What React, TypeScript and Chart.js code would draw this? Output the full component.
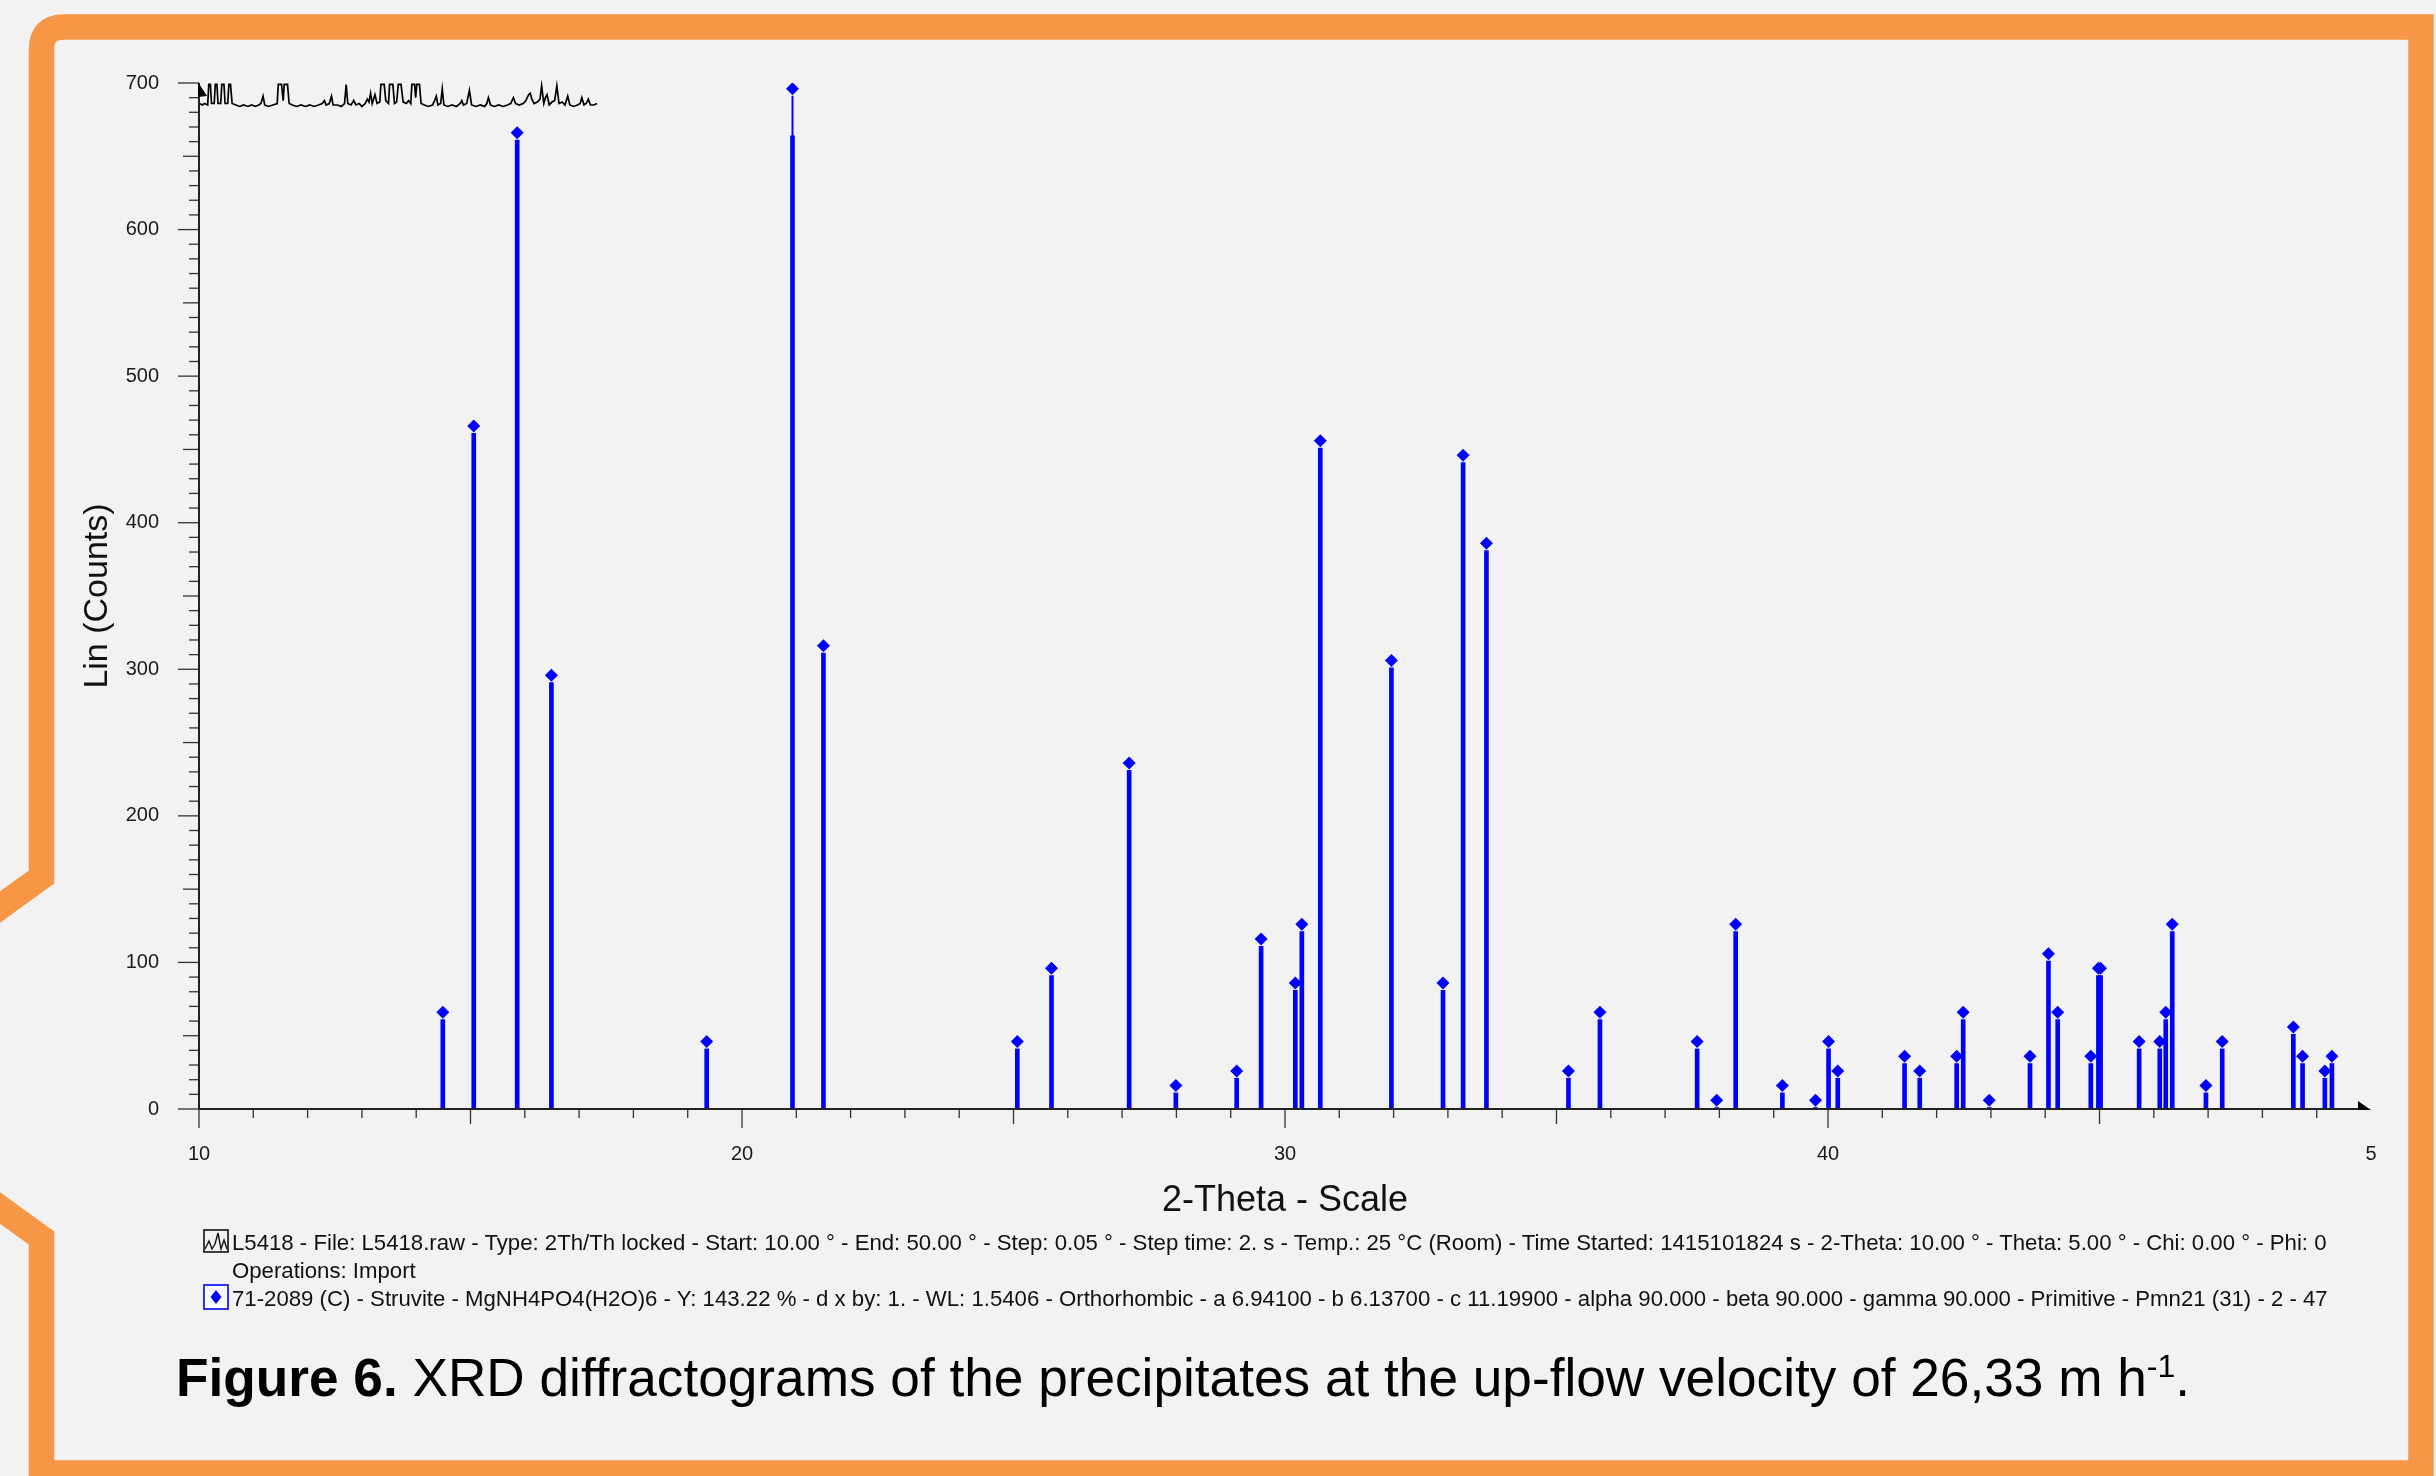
import React, { useEffect, useRef } from "react";
import { Chart, registerables } from "chart.js";

Chart.register(...registerables);

// ---------------- data ----------------
// Struvite reference pattern (71-2089): 2-theta positions and intensities (Lin counts)
const peakAngles = [
  14.49, 15.06, 15.86, 16.49, 19.35, 20.93, 21.5, 25.07, 25.7, 27.13,
  27.99, 29.11, 29.56, 30.19, 30.31, 30.65, 31.96, 32.91, 33.28, 33.71,
  35.22, 35.8, 37.59, 37.95, 38.3, 39.16, 39.77, 40.01, 40.18, 41.41,
  41.69, 42.37, 42.49, 42.97, 43.72, 44.06, 44.23, 44.84, 44.98, 45.02,
  45.73, 46.11, 46.22, 46.34, 46.96, 47.26, 48.57, 48.74, 49.15, 49.28,
];
const peakCounts = [
  66, 466, 666, 296, 46, 696, 316, 46, 96, 236,
  16, 26, 116, 86, 126, 456, 306, 86, 446, 386,
  26, 66, 46, 6, 126, 16, 6, 46, 26, 36,
  26, 36, 66, 6, 36, 106, 66, 36, 96, 96,
  46, 46, 66, 126, 16, 46, 56, 36, 26, 36,
];

// Measured scan L5418 as drawn (compressed trace at the top of the plot)
const traceAngles = [
  10.01, 10.06, 10.1, 10.16, 10.18, 10.21, 10.23, 10.28, 10.3, 10.33, 10.35, 10.4, 10.42, 10.46, 10.48,
  10.53, 10.55, 10.58, 10.61, 10.68, 10.75, 10.82, 10.9, 10.97, 11.04, 11.1, 11.14, 11.18, 11.21, 11.28,
  11.36, 11.44, 11.46, 11.52, 11.55, 11.57, 11.63, 11.66, 11.72, 11.8, 11.88, 11.96, 12.04, 12.12, 12.2,
  12.27, 12.31, 12.34, 12.4, 12.44, 12.47, 12.55, 12.62, 12.68, 12.71, 12.74, 12.8, 12.85, 12.89, 12.95,
  13.0, 13.06, 13.1, 13.13, 13.16, 13.19, 13.24, 13.28, 13.33, 13.35, 13.41, 13.44, 13.49, 13.51, 13.57,
  13.6, 13.64, 13.67, 13.72, 13.76, 13.82, 13.86, 13.9, 13.92, 13.97, 13.99, 14.01, 14.06, 14.09, 14.15,
  14.22, 14.3, 14.34, 14.37, 14.4, 14.45, 14.48, 14.51, 14.58, 14.66, 14.74, 14.81, 14.84, 14.87, 14.93,
  14.98, 15.02, 15.1, 15.18, 15.26, 15.3, 15.33, 15.37, 15.44, 15.52, 15.6, 15.68, 15.74, 15.79, 15.83,
  15.9, 15.97, 16.02, 16.07, 16.1, 16.13, 16.17, 16.23, 16.28, 16.31, 16.35, 16.38, 16.41, 16.45, 16.5,
  16.55, 16.59, 16.63, 16.69, 16.74, 16.79, 16.83, 16.9, 16.97, 17.02, 17.05, 17.09, 17.13, 17.17, 17.21,
  17.27, 17.33,
];
const traceCounts = [
  686, 685, 686, 685, 699, 699, 686, 686, 699, 699, 686, 686, 699, 699, 686,
  686, 699, 699, 686, 685, 684, 685, 684, 685, 684, 685, 686, 691, 685, 684,
  685, 686, 699, 699, 688, 699, 699, 686, 685, 684, 685, 684, 685, 684, 685,
  686, 688, 685, 686, 691, 685, 685, 684, 686, 699, 686, 685, 688, 685, 686,
  684, 686, 689, 687, 693, 686, 692, 686, 687, 699, 699, 688, 686, 699, 699,
  686, 687, 699, 699, 687, 686, 688, 686, 699, 699, 690, 699, 699, 686, 685,
  684, 685, 688, 691, 685, 686, 696, 685, 684, 685, 684, 686, 688, 685, 686,
  695, 685, 684, 685, 684, 686, 690, 685, 684, 685, 684, 685, 686, 690, 686,
  685, 686, 688, 692, 693, 689, 686, 687, 689, 698, 686, 690, 692, 685, 687,
  688, 698, 686, 687, 685, 691, 685, 684, 685, 686, 690, 685, 686, 689, 685,
  685, 686,
];

const xTickValues = [10, 20, 30, 40, 50];
const xTickLabels = ["10", "20", "30", "40", "5"];
const yTickLabels = ["0", "100", "200", "300", "400", "500", "600", "700"];

const X_MIN = 10;
const X_MAX = 50;
const Y_MIN = 0;
const Y_MAX = 700;

const legendLine1 =
  "L5418 - File: L5418.raw - Type: 2Th/Th locked - Start: 10.00 ° - End: 50.00 ° - Step: 0.05 ° - Step time: 2. s - Temp.: 25 °C (Room) - Time Started: 1415101824 s - 2-Theta: 10.00 ° - Theta: 5.00 ° - Chi: 0.00 ° - Phi: 0";
const legendLine2 = "Operations: Import";
const legendLine3 =
  "71-2089 (C) - Struvite - MgNH4PO4(H2O)6 - Y: 143.22 % - d x by: 1. - WL: 1.5406 - Orthorhombic - a 6.94100 - b 6.13700 - c 11.19900 - alpha 90.000 - beta 90.000 - gamma 90.000 - Primitive - Pmn21 (31) - 2 - 47";

// ---------------- layout / style ----------------
const W = 2436;
const H = 1476;
const PLOT = { left: 199, right: 2371, top: 83, bottom: 1109 };
const FONT = '"Liberation Sans", Arial, Helvetica, sans-serif';
const BLUE = "#0000ff";
const ORANGE = "#F79646";
const STICK_GAP = 5; // stick stops just below its diamond
const STICK_CLIP = 664; // above this the stick is drawn thin

const axesPlugin = {
  id: "xrdAxes",
  afterDraw(chart: any) {
    const { ctx } = chart;
    const xs = chart.scales.x;
    const ys = chart.scales.y;
    const x0 = xs.getPixelForValue(X_MIN);
    const xEnd = xs.getPixelForValue(X_MAX);
    const y0 = ys.getPixelForValue(Y_MIN);
    const yTop = ys.getPixelForValue(Y_MAX);
    ctx.save();
    ctx.strokeStyle = "#333";
    ctx.lineWidth = 1.3;
    for (let v = Y_MIN; v <= Y_MAX; v += 10) {
      const p = ys.getPixelForValue(v);
      const len = v % 100 === 0 ? 21 : v % 50 === 0 ? 16 : 10;
      ctx.beginPath();
      ctx.moveTo(x0 - len, p);
      ctx.lineTo(x0, p);
      ctx.stroke();
    }
    for (let v = X_MIN; v < X_MAX; v += 1) {
      const p = xs.getPixelForValue(v);
      const len = v % 10 === 0 ? 19 : v % 5 === 0 ? 15 : 9;
      ctx.beginPath();
      ctx.moveTo(p, y0);
      ctx.lineTo(p, y0 + len);
      ctx.stroke();
    }
    ctx.strokeStyle = "#222";
    ctx.lineWidth = 2;
    ctx.beginPath();
    ctx.moveTo(x0, y0);
    ctx.lineTo(x0, yTop);
    ctx.moveTo(x0, y0);
    ctx.lineTo(xEnd - 12, y0);
    ctx.stroke();
    ctx.fillStyle = "#000";
    ctx.beginPath();
    ctx.moveTo(x0 - 1, yTop - 1);
    ctx.lineTo(x0 - 1, yTop + 14);
    ctx.lineTo(x0 + 8, yTop + 13);
    ctx.closePath();
    ctx.fill();
    ctx.beginPath();
    ctx.moveTo(xEnd - 13, y0 - 8);
    ctx.lineTo(xEnd - 13, y0 + 1);
    ctx.lineTo(xEnd, y0 + 1);
    ctx.closePath();
    ctx.fill();
    ctx.restore();
  },
};

export default function App() {
  const ref = useRef<HTMLCanvasElement>(null);

  useEffect(() => {
    const canvas = ref.current;
    if (!canvas) return;
    const trace = traceAngles.map((x, i) => ({ x, y: traceCounts[i] }));
    const diamonds = peakAngles.map((x, i) => ({ x, y: peakCounts[i] }));
    const thickSticks = peakAngles.map((x, i) => ({
      x,
      y: Math.min(peakCounts[i] - STICK_GAP, STICK_CLIP),
    }));
    const thinSticks = peakAngles
      .map((x, i) => ({ x, y: peakCounts[i] - STICK_GAP }))
      .filter((p) => p.y > STICK_CLIP);

    const chart = new Chart(canvas, {
      type: "scatter",
      data: {
        datasets: [
          {
            type: "line",
            label: "L5418",
            data: trace,
            borderColor: "#000",
            borderWidth: 1.7,
            pointRadius: 0,
            tension: 0,
            clip: false,
            order: 0,
          } as any,
          {
            type: "scatter",
            label: "71-2089 (C) - Struvite",
            data: diamonds,
            pointStyle: "rectRot",
            pointRadius: 6.5,
            pointBackgroundColor: BLUE,
            backgroundColor: BLUE,
            borderWidth: 0,
            order: 1,
          } as any,
          {
            type: "bar",
            label: "sticks",
            data: thickSticks,
            backgroundColor: BLUE,
            barThickness: 4,
            grouped: false,
            order: 2,
          } as any,
          {
            type: "bar",
            label: "sticks-thin",
            data: thinSticks,
            backgroundColor: BLUE,
            barThickness: 1.3,
            grouped: false,
            order: 3,
          } as any,
        ],
      },
      options: {
        responsive: false,
        maintainAspectRatio: false,
        animation: false,
        events: [],
        layout: {
          padding: { left: 0, right: W - PLOT.right, top: PLOT.top, bottom: 0 },
        },
        plugins: {
          legend: { display: false },
          tooltip: { enabled: false },
          title: { display: false },
        },
        scales: {
          x: {
            type: "linear",
            min: X_MIN,
            max: X_MAX,
            offset: false,
            grid: { display: false, drawTicks: false, offset: false },
            border: { display: false },
            afterBuildTicks: (s: any) => {
              s.ticks = xTickValues.map((v) => ({ value: v }));
            },
            ticks: {
              autoSkip: false,
              maxRotation: 0,
              padding: 33,
              color: "#1a1a1a",
              font: { family: FONT, size: 20 },
              callback: (v: any) => {
                const i = xTickValues.indexOf(Number(v));
                return i >= 0 ? xTickLabels[i] : "";
              },
            },
            title: {
              display: true,
              text: "2-Theta - Scale",
              color: "#111",
              font: { family: FONT, size: 36 },
              padding: { top: 0, bottom: 253 },
            },
            afterFit: (s: any) => {
              s.height = H - PLOT.bottom;
            },
          },
          y: {
            type: "linear",
            min: Y_MIN,
            max: Y_MAX,
            grid: { display: false, drawTicks: false },
            border: { display: false },
            ticks: {
              stepSize: 100,
              autoSkip: false,
              padding: 40,
              color: "#1a1a1a",
              font: { family: FONT, size: 20 },
              callback: (v: any) => {
                const i = Math.round(Number(v) / 100);
                return yTickLabels[i] ?? "";
              },
            },
            title: {
              display: true,
              text: "Lin (Counts)",
              color: "#111",
              font: { family: FONT, size: 34 },
              padding: { top: 77, bottom: 0 },
            },
            afterFit: (s: any) => {
              s.width = PLOT.left;
            },
          },
        },
      },
      plugins: [axesPlugin],
    });
    return () => chart.destroy();
  }, []);

  const legendText: React.CSSProperties = {
    position: "absolute",
    left: 232,
    fontSize: 22.2,
    lineHeight: "22px",
    whiteSpace: "nowrap",
    color: "#111",
  };

  return (
    <div
      style={{
        position: "fixed",
        left: 0,
        top: 0,
        width: W,
        height: H,
        background: "#f2f2f2",
        overflow: "hidden",
        fontFamily: FONT,
      }}
    >
      <svg
        width={W}
        height={H}
        style={{ position: "absolute", left: 0, top: 0 }}
      >
        <path
          d="M -40 936 L 41.5 877 L 41.5 50 Q 41.5 27 64 27 L 2421 27 L 2421 1473 L 41.5 1473 L 41.5 1238 L -40 1179"
          fill="none"
          stroke={ORANGE}
          strokeWidth={25.5}
          strokeLinejoin="miter"
        />
      </svg>
      <canvas
        ref={ref}
        width={W}
        height={H}
        style={{ position: "absolute", left: 0, top: 0, width: W, height: H }}
      />
      <svg
        width={27}
        height={25}
        style={{ position: "absolute", left: 203, top: 1229 }}
      >
        <rect x={1} y={1} width={24} height={22} fill="none" stroke="#111" strokeWidth={1.6} />
        <polyline
          points="2,20 6,12 9,20 12,15 15,4 18,20 21,11 24,20"
          fill="none"
          stroke="#111"
          strokeWidth={1.4}
        />
      </svg>
      <div style={{ ...legendText, top: 1232 }}>{legendLine1}</div>
      <div style={{ ...legendText, top: 1260 }}>{legendLine2}</div>
      <svg
        width={27}
        height={27}
        style={{ position: "absolute", left: 203, top: 1284 }}
      >
        <rect x={1} y={1} width={24} height={24} fill="#f8f8ff" stroke={BLUE} strokeWidth={1.6} />
        <rect x={3} y={3} width={20} height={20} fill="none" stroke="#ffffff" strokeWidth={1} />
        <polygon points="13,6 18.5,13 13,20 7.5,13" fill={BLUE} />
      </svg>
      <div style={{ ...legendText, top: 1288 }}>{legendLine3}</div>
      <div
        style={{
          position: "absolute",
          left: 176,
          top: 1352,
          fontSize: 53.2,
          lineHeight: "52px",
          whiteSpace: "nowrap",
          color: "#000",
        }}
      >
        <b>Figure 6.</b> XRD diffractograms of the precipitates at the up-flow
        velocity of 26,33 m h
        <span style={{ fontSize: 32, position: "relative", top: -19 }}>-1</span>.
      </div>
    </div>
  );
}
